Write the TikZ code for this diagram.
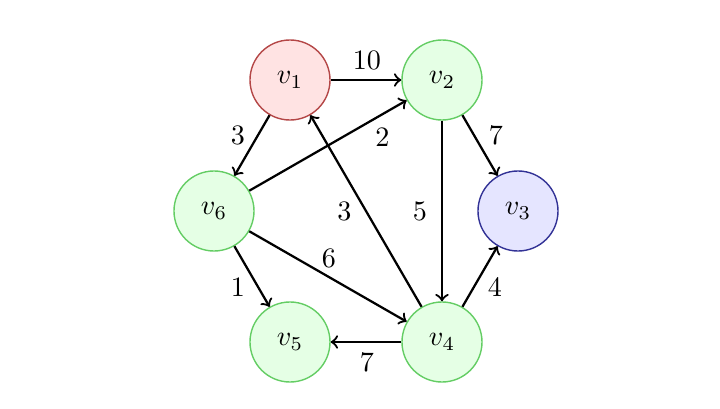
\documentclass[tikz,border=0pt]{standalone}
\definecolor{redline}{RGB}{180,70,70}
\definecolor{greenline}{RGB}{100,205,100}
\definecolor{blueline}{RGB}{50,50,150}
\begin{document}
\begin{tikzpicture}[x=0.0125cm,y=-0.0125cm,
  vtx/.style={circle,minimum size=1cm,inner sep=0pt,line width=0.5pt},
  redv/.style={vtx,draw=redline,fill=red!11},
  greenv/.style={vtx,draw=greenline,fill=green!10},
  bluev/.style={vtx,draw=blueline,fill=blue!10},
  edge/.style={->,thick},
  lbl/.style={anchor=center,inner sep=0pt,font=\normalsize}]
\useasboundingbox (0,0) rectangle (720,409);
\node[redv] (v1) at (290,80) {$v_1$};
\node[greenv] (v2) at (442,80) {$v_2$};
\node[bluev] (v3) at (518,211) {$v_3$};
\node[greenv] (v4) at (442,342) {$v_4$};
\node[greenv] (v5) at (290,342) {$v_5$};
\node[greenv] (v6) at (214,211) {$v_6$};
\draw[edge] (v1) -- node[lbl,shift={(1,-20)}] {10} (v2);
\draw[edge] (v1) -- node[lbl,shift={(-14,-10)}] {3} (v6);
\draw[edge] (v2) -- node[lbl,shift={(16,-10)}] {7} (v3);
\draw[edge] (v2) -- node[lbl,shift={(-22,0)}] {5} (v4);
\draw[edge] (v4) -- node[lbl,shift={(15,10.5)}] {4} (v3);
\draw[edge] (v4) -- node[lbl,shift={(1,20)}] {7} (v5);
\draw[edge] (v6) -- node[lbl,shift={(-14,10.5)}] {1} (v5);
\draw[edge] (v6) -- node[lbl,shift={(1,-18.5)}] {6} (v4);
\draw[edge] (v6) -- node[lbl,shift={(54.5,-8.5)}] {2} (v2);
\draw[edge] (v4) -- node[lbl,shift={(-21.5,0)}] {3} (v1);
\end{tikzpicture}
\end{document}
